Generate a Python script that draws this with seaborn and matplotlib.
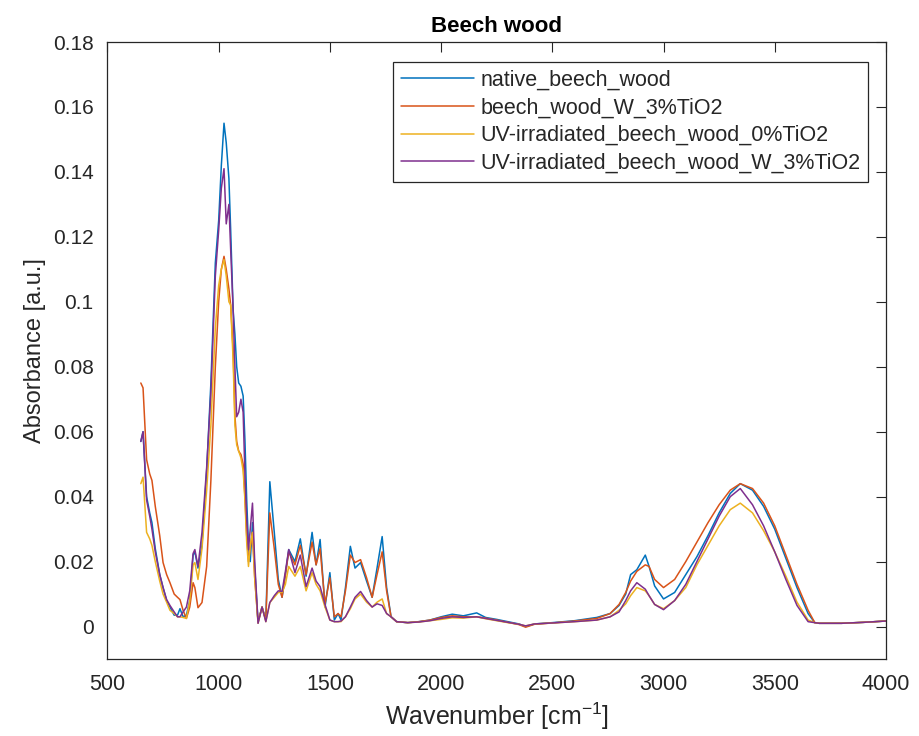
import matplotlib
matplotlib.use("Agg")
import matplotlib.pyplot as plt
import seaborn as sns
import pandas as pd
import numpy as np

# ---- data ----
wavenumber = [650, 660, 676, 690, 700, 715, 735, 750, 766, 781,
              800, 815, 826, 840, 855, 870, 885, 893, 907, 925,
              946, 965, 985, 1000, 1012, 1024, 1034, 1046, 1054, 1065,
              1073, 1081, 1090, 1100, 1110, 1118, 1126, 1134, 1142, 1152,
              1162, 1177, 1195, 1212, 1230, 1250, 1268, 1285, 1300, 1315,
              1343, 1367, 1393, 1420, 1438, 1456, 1478, 1500, 1520, 1537,
              1550, 1570, 1592, 1613, 1638, 1665, 1690, 1712, 1735, 1755,
              1775, 1800, 1850, 1900, 1950, 2000, 2050, 2100, 2160, 2200,
              2250, 2300, 2350, 2380, 2420, 2500, 2600, 2700, 2760, 2800,
              2830, 2852, 2880, 2918, 2935, 2960, 3000, 3050, 3100, 3150,
              3200, 3250, 3300, 3345, 3400, 3450, 3500, 3550, 3600, 3650,
              3680, 3700, 3800, 3900, 4000]

native_beech_wood = [
    .057, .060, .040, .035, .032, .024, .016, .012, .008, .006,
    .0035, .0035, .0055, .003, .0035, .008, .022, .023, .018, .025,
    .048, .075, .112, .125, .142, .155, .149, .138, .122, .0975,
    .090, .080, .075, .074, .071, .0575, .039, .025, .020, .032,
    .018, .0015, .006, .002, .0446, .029, .0145, .009, .016, .0237,
    .020, .027, .0155, .029, .019, .0268, .006, .0166, .002, .004,
    .002, .012, .0247, .018, .0197, .014, .009, .018, .0277, .012,
    .003, .0015, .0012, .0015, .002, .003, .0038, .0033, .0042, .0028,
    .0022, .0015, .0008, .0, .0008, .0012, .0018, .0028, .004, .0065,
    .010, .016, .0175, .022, .0185, .0125, .0085, .0105, .016, .0215,
    .028, .035, .041, .044, .042, .037, .030, .021, .012, .004,
    .0012, .001, .001, .0013, .0017]

beech_wood_W_3TiO2 = [
    .075, .0735, .0514, .047, .045, .037, .028, .0197, .016, .0135,
    .010, .009, .0083, .005, .0025, .006, .0135, .012, .0058, .0074,
    .0185, .045, .080, .100, .110, .114, .110, .104, .099, .085,
    .065, .057, .054, .053, .050, .040, .028, .020, .024, .029,
    .015, .0015, .006, .002, .035, .024, .013, .009, .016, .023,
    .019, .025, .016, .026, .019, .024, .007, .015, .003, .004,
    .003, .011, .022, .0197, .0206, .015, .009, .016, .023, .011,
    .003, .0015, .0012, .0015, .002, .0028, .0033, .003, .003, .0026,
    .002, .0013, .0006, -.0002, .0007, .0011, .0017, .0025, .004, .0068,
    .0105, .014, .017, .019, .0185, .0145, .012, .0145, .020, .026,
    .032, .0375, .042, .044, .0425, .038, .031, .022, .013, .005,
    .0012, .001, .001, .0013, .0017]

uv_beech_wood_0TiO2 = [
    .044, .046, .029, .027, .025, .020, .014, .010, .0075, .005,
    .004, .003, .003, .0028, .0025, .008, .019, .0197, .0145, .024,
    .042, .062, .092, .105, .110, .113, .108, .100, .099, .082,
    .062, .056, .054, .052, .048, .039, .026, .0185, .025, .029,
    .015, .001, .006, .0015, .0074, .009, .0105, .0105, .013, .0185,
    .0155, .0185, .011, .0166, .013, .011, .006, .002, .0015, .0015,
    .0015, .003, .0055, .0085, .010, .0075, .006, .0075, .0085, .004,
    .003, .0015, .0012, .0014, .0018, .0022, .0027, .0026, .003, .0024,
    .0018, .0012, .0007, .0002, .0008, .0011, .0015, .002, .003, .005,
    .007, .0095, .012, .011, .0095, .0068, .0055, .008, .012, .019,
    .025, .031, .036, .038, .035, .0295, .023, .0155, .0075, .002,
    .0012, .001, .001, .0013, .0017]

uv_beech_wood_W_3TiO2 = [
    .057, .060, .039, .034, .030, .023, .016, .012, .0083, .0065,
    .0045, .003, .003, .0045, .006, .011, .0225, .0237, .0185, .029,
    .049, .072, .108, .122, .135, .141, .124, .130, .116, .0975,
    .080, .0646, .066, .070, .066, .047, .033, .0237, .030, .038,
    .020, .001, .006, .0015, .0074, .0095, .011, .0108, .017, .0237,
    .0166, .022, .0123, .018, .014, .0123, .0068, .002, .0015, .0015,
    .0017, .003, .006, .009, .0108, .008, .006, .007, .0065, .004,
    .003, .0015, .0012, .0014, .0018, .0025, .003, .0028, .003, .0025,
    .0019, .0013, .0007, .0002, .0008, .0011, .0015, .002, .003, .0045,
    .008, .011, .0135, .0115, .0095, .0068, .0052, .008, .013, .020,
    .027, .034, .040, .0425, .0375, .031, .023, .0145, .0065, .0015,
    .0012, .001, .001, .0013, .0017]

labels = ["native_beech_wood", "beech_wood_W_3%TiO2",
          "UV-irradiated_beech_wood_0%TiO2", "UV-irradiated_beech_wood_W_3%TiO2"]
colors = ["#0072BD", "#D95319", "#EDB120", "#7E2F8E"]
xticks = [500, 1000, 1500, 2000, 2500, 3000, 3500, 4000]
yticks = [0, 0.02, 0.04, 0.06, 0.08, 0.1, 0.12, 0.14, 0.16, 0.18]

series = [native_beech_wood, beech_wood_W_3TiO2, uv_beech_wood_0TiO2, uv_beech_wood_W_3TiO2]
frames = []
for lab, vals in zip(labels, series):
    n = min(len(wavenumber), len(vals))
    frames.append(pd.DataFrame({"Wavenumber": wavenumber[:n], "Absorbance": vals[:n], "Sample": lab}))
df = pd.concat(frames, ignore_index=True)

sns.set_theme(style="white")
plt.rcParams["font.family"] = ["Liberation Sans", "DejaVu Sans"]
plt.rcParams["mathtext.fontset"] = "custom"
plt.rcParams["mathtext.rm"] = "Liberation Sans"

fig = plt.figure(figsize=(9.2, 7.36), dpi=100)
ax = fig.add_axes([0.1168, 0.1046, 0.8462, 0.8383])

sns.lineplot(data=df, x="Wavenumber", y="Absorbance", hue="Sample",
             hue_order=labels, palette=colors, sort=False, estimator=None,
             linewidth=1.1, ax=ax)

ax.set_xlim(500, 4000)
ax.set_ylim(-0.01, 0.18)
ax.set_xticks(xticks)
ax.set_xticklabels([str(t) for t in xticks], fontsize=15.5)
ax.set_yticks(yticks)
ax.set_yticklabels(["{:g}".format(t) for t in yticks], fontsize=15)

dark = "#262626"
for s in ax.spines.values():
    s.set_visible(True)
    s.set_color(dark)
    s.set_linewidth(0.9)
ax.tick_params(axis="both", direction="in", length=7, width=0.8, colors=dark,
               top=True, right=True)
ax.tick_params(axis="x", pad=11)
ax.tick_params(axis="y", pad=10)

ax.set_xlabel("Wavenumber [cm$^{\\mathrm{-1}}$]", fontsize=18, color=dark, labelpad=4)
ax.set_ylabel("Absorbance [a.u.]", fontsize=17, color=dark, labelpad=5)
ax.set_title("Beech wood", fontsize=16, fontweight="bold", color="black", pad=7)

leg = ax.legend(loc="upper right", bbox_to_anchor=(0.977, 0.968), fontsize=15.5,
                frameon=True, fancybox=False, framealpha=1, edgecolor="#262626",
                handlelength=3.4, handletextpad=0.3, labelspacing=0.32,
                borderpad=0.35, borderaxespad=0)
leg.get_frame().set_linewidth(0.9)
for line in leg.get_lines():
    line.set_linewidth(1.1)

fig.savefig("out.png", dpi=100)
